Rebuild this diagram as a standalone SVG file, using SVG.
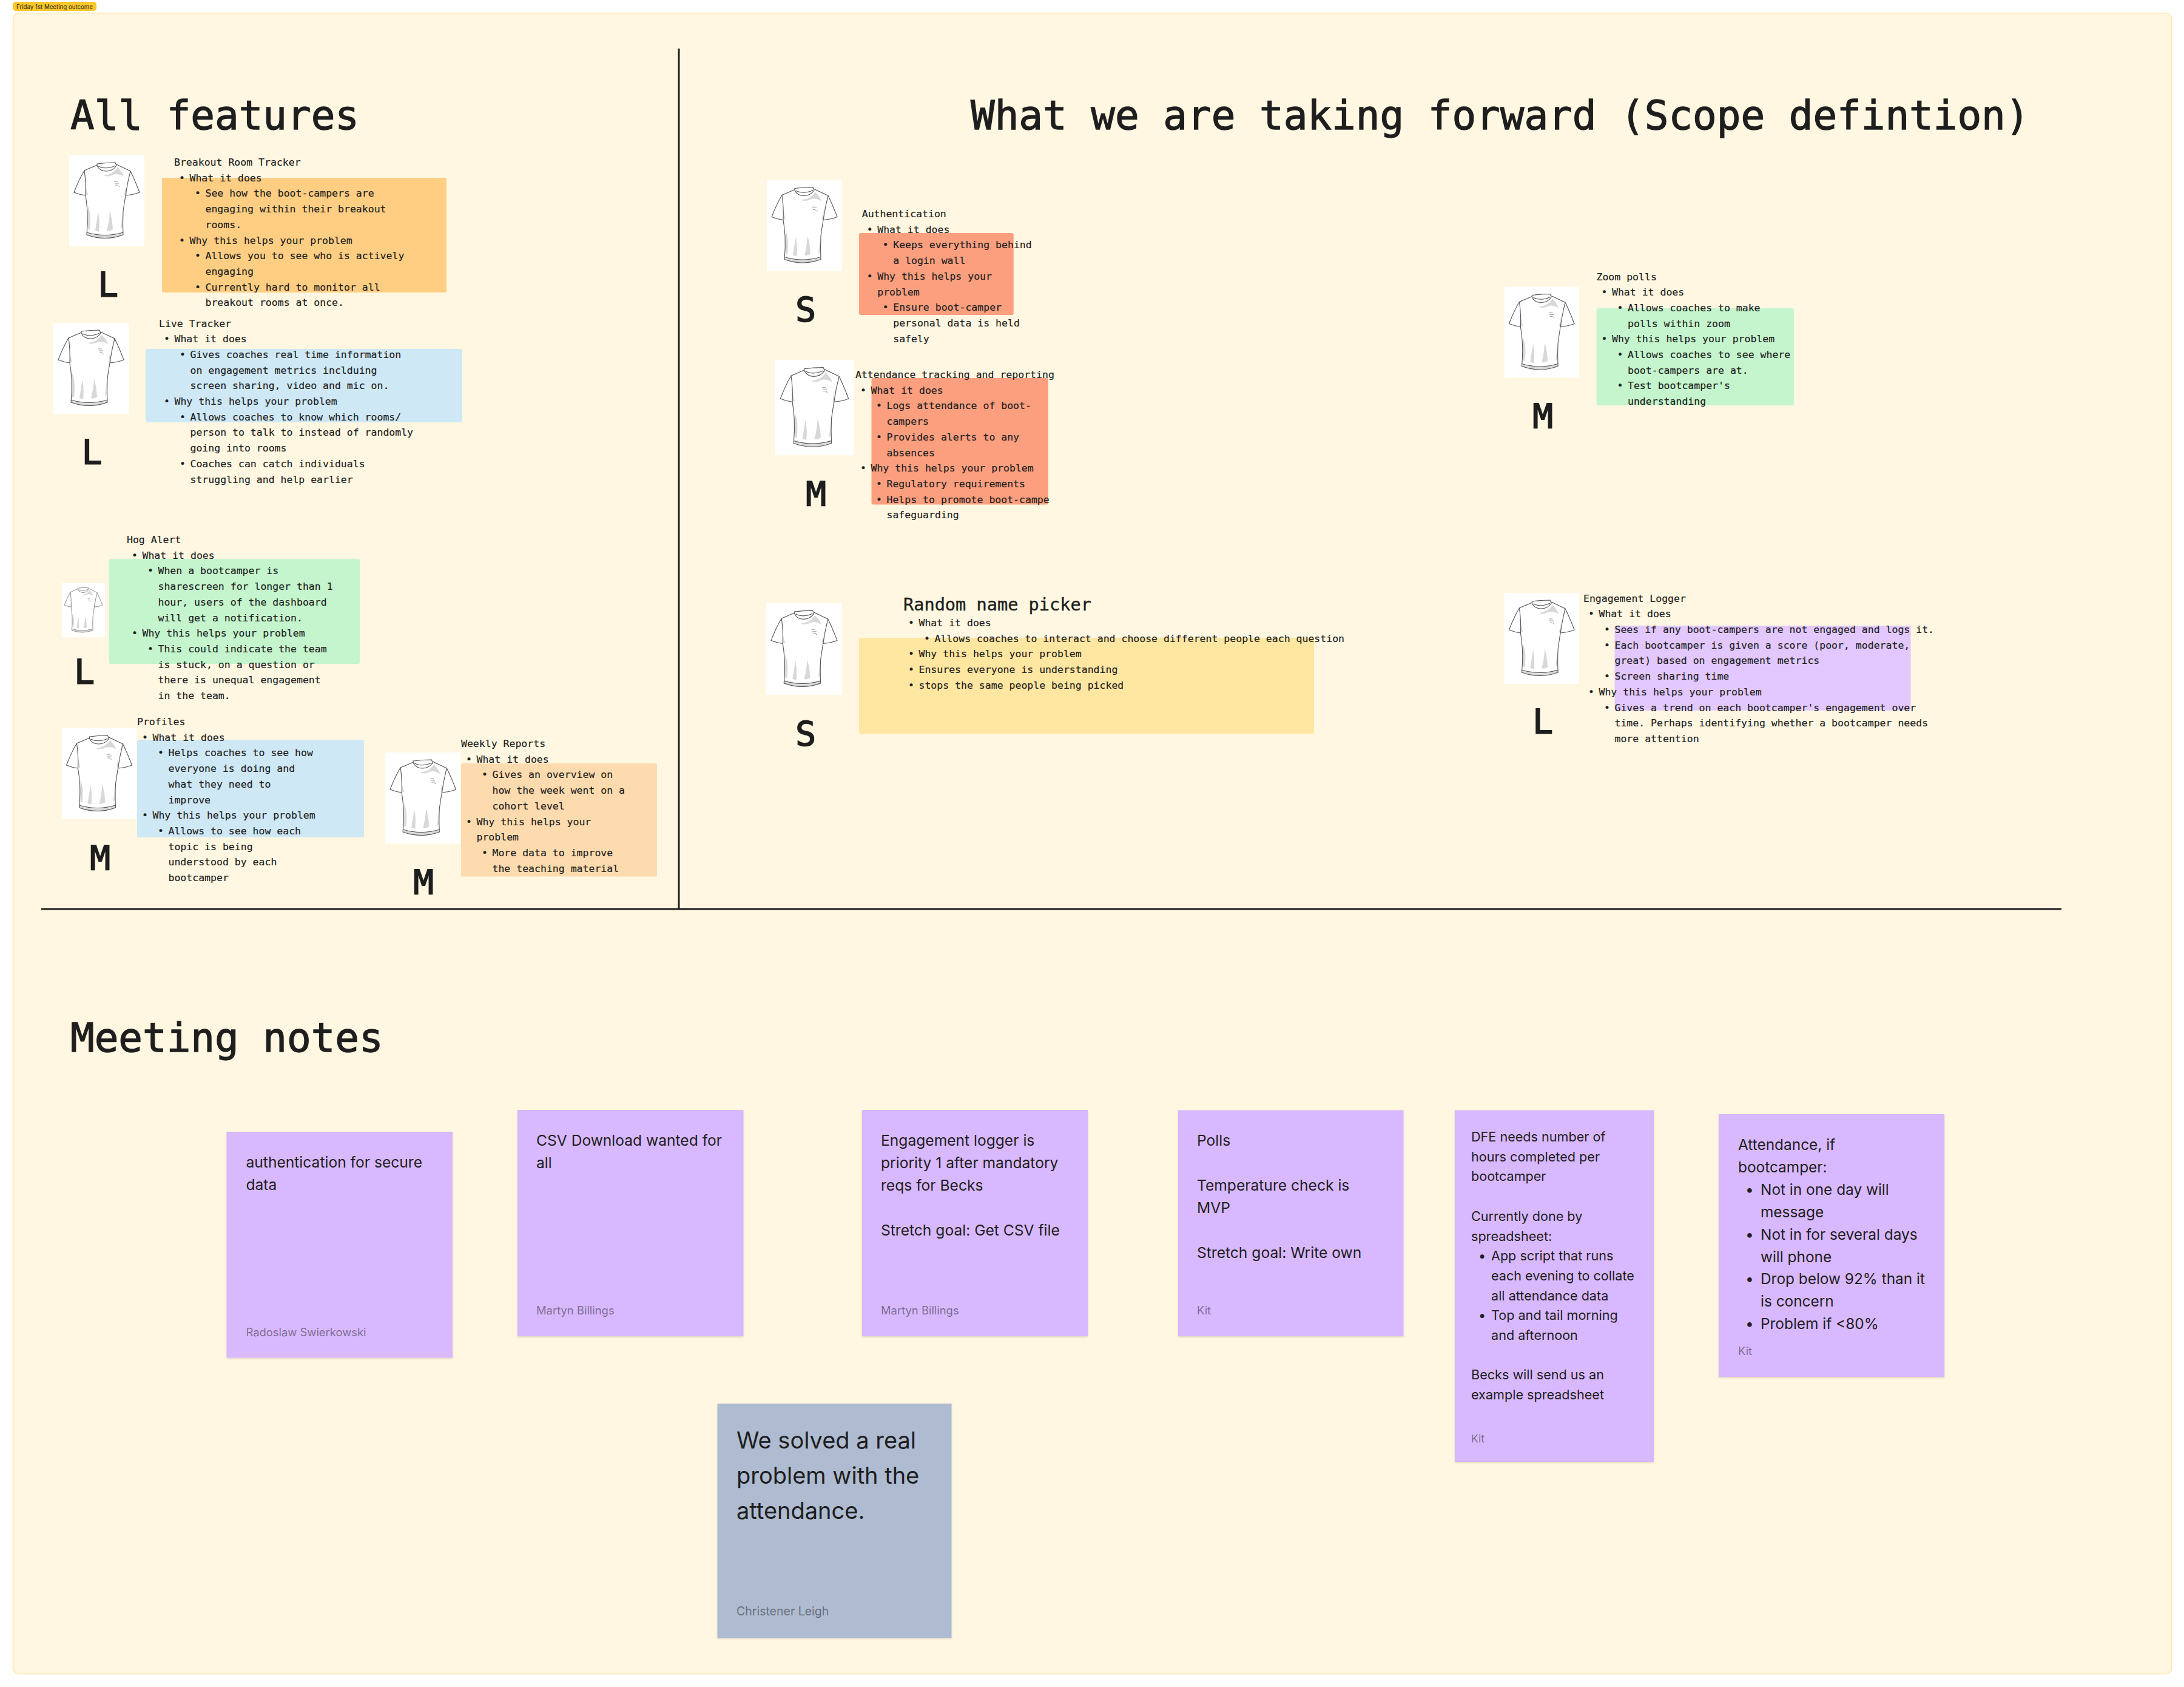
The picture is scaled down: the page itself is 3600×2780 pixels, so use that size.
<svg xmlns="http://www.w3.org/2000/svg" width="3600" height="2780" viewBox="0 0 3600 2780">
<style>
text{fill:#1e1e1e}
.m{font-family:"DejaVu Sans Mono","Liberation Mono",monospace;font-size:16.5px;stroke:#1e1e1e;stroke-width:.2px}
.h{font-family:"DejaVu Sans Mono","Liberation Mono",monospace;font-size:65.9px;stroke:#1e1e1e;stroke-width:1.3px}
.sz{font-family:"DejaVu Sans Mono","Liberation Mono",monospace;font-size:56px;text-anchor:middle;stroke:#1e1e1e;stroke-width:1.8px}
.s{font-family:Inter,"Noto Sans",sans-serif;font-size:24.6px}
.a{font-family:Inter,"Noto Sans",sans-serif;font-size:18.4px;fill:#1e1e1e;fill-opacity:.5}
.or{fill:#ffce83}.bl{fill:#cfe8f6}.gr{fill:#c5f5cd}.pe{fill:#fddbae}.sa{fill:#fb9f7f}.ye{fill:#ffe6a1}.pu{fill:#e2c8ff}
.st{fill:#d8b8ff;filter:url(#sh)}
</style>
<defs>
<filter id="sh" x="-5%" y="-5%" width="110%" height="110%"><feDropShadow dx="0" dy="1.5" stdDeviation="1.5" flood-color="#000" flood-opacity=".14"/></filter>
<symbol id="tee" viewBox="0 0 124 150" preserveAspectRatio="none">
<rect width="124" height="150" fill="#fff"/>
<g fill="#d8d8d8">
<path d="M57 33Q72 32 80 20Q88 28 90 35Q78 28 70 33Q62 36 57 33Z"/>
<path d="M27 50L31 65L27 65Z"/><path d="M93 50L91 65L95 65Z"/>
<path d="M43 124Q46 104 48 94Q51 112 49 126Z"/>
<path d="M67 92Q71 105 72 122Q66 126 62 124Q66 110 67 92Z"/>
<path d="M31 84Q37 97 34 122L31 122Z"/>
<path d="M88 94L88 118L85 122Q87 105 88 94Z"/>
<path d="M29 128Q59 137 89 128L89 131Q59 141 29 131Z"/>
</g>
<g fill="none" stroke="#555" stroke-width="1.1">
<path d="M46 14Q60 12 76 12L78 17Q72 26 61 26Q50 26 46 17Z"/>
<path d="M48 18Q61 24 76 17"/>
<path d="M46 16L25 25Q16 40 8 61Q18 65 27 66Q29 78 30 92Q31 112 29 131Q59 142 89 131Q88 112 89 92Q91 78 93 66Q106 65 116 61Q108 40 101 26L78 15"/>
<path d="M25 25Q28 45 27 66"/><path d="M101 26Q96 45 93 66"/>
<path d="M29 127Q59 136 89 127"/>
</g>
<path d="M74 43h6M75 46h7M76 49h4l3 3" fill="none" stroke="#999" stroke-width="1"/>
</symbol>
</defs>
<rect width="3600" height="2780" fill="#fff"/>
<g id="frame">
<rect x="21.5" y="21.5" width="3558" height="2737" rx="10" fill="#fff7e1" stroke="#fde6ae" stroke-width="1.5"/>
<rect x="21" y="3" width="138" height="15" rx="5" fill="#fcc72a"/>
<text x="27" y="15" style="font-family:Inter,sans-serif;font-size:9.7px">Friday 1st Meeting outcome</text>
</g>
<g id="headings">
<text class="h" x="116" y="213">All features</text>
<text class="h" x="1600" y="213">What we are taking forward (Scope defintion)</text>
<text class="h" x="116" y="1733">Meeting notes</text>
</g>
<g id="connectors" stroke="#1e1e1e" stroke-width="3">
<line x1="1119" y1="80" x2="1119" y2="1498"/>
<line x1="68" y1="1498" x2="3398" y2="1498"/>
</g>

<g id="breakout-room-tracker">
<use href="#tee" x="114" y="256" width="124" height="150"/>
<text class="sz" x="178" y="488">L</text>
<rect class="or" x="267" y="293" width="469" height="189" rx="3"/>
<text class="m" transform="translate(287 273)"><tspan x="0">Breakout Room Tracker</tspan><tspan x="8" dy="25.7">•</tspan><tspan x="25.500">What it does</tspan><tspan x="34" dy="25.7">•</tspan><tspan x="51.500">See how the boot-campers are</tspan><tspan x="51.500" dy="25.7">engaging within their breakout</tspan><tspan x="51.500" dy="25.7">rooms.</tspan><tspan x="8" dy="25.7">•</tspan><tspan x="25.500">Why this helps your problem</tspan><tspan x="34" dy="25.7">•</tspan><tspan x="51.500">Allows you to see who is actively</tspan><tspan x="51.500" dy="25.7">engaging</tspan><tspan x="34" dy="25.7">•</tspan><tspan x="51.500">Currently hard to monitor all</tspan><tspan x="51.500" dy="25.7">breakout rooms at once.</tspan></text>
</g>
<g id="live-tracker">
<use href="#tee" x="88" y="532" width="124" height="150"/>
<text class="sz" x="151.500" y="764">L</text>
<rect class="bl" x="240" y="575" width="522" height="121" rx="3"/>
<text class="m" transform="translate(262 538.500)"><tspan x="0">Live Tracker</tspan><tspan x="8" dy="25.7">•</tspan><tspan x="25.500">What it does</tspan><tspan x="34" dy="25.7">•</tspan><tspan x="51.500">Gives coaches real time information</tspan><tspan x="51.500" dy="25.7">on engagement metrics inclduing</tspan><tspan x="51.500" dy="25.7">screen sharing, video and mic on.</tspan><tspan x="8" dy="25.7">•</tspan><tspan x="25.500">Why this helps your problem</tspan><tspan x="34" dy="25.7">•</tspan><tspan x="51.500">Allows coaches to know which rooms/</tspan><tspan x="51.500" dy="25.7">person to talk to instead of randomly</tspan><tspan x="51.500" dy="25.7">going into rooms</tspan><tspan x="34" dy="25.7">•</tspan><tspan x="51.500">Coaches can catch individuals</tspan><tspan x="51.500" dy="25.7">struggling and help earlier</tspan></text>
</g>
<g id="hog-alert">
<use href="#tee" x="101.500" y="961" width="72" height="89"/>
<text class="sz" x="139" y="1126">L</text>
<rect class="gr" x="180" y="921" width="413" height="173" rx="3"/>
<text class="m" transform="translate(209 895)"><tspan x="0">Hog Alert</tspan><tspan x="8" dy="25.7">•</tspan><tspan x="25.500">What it does</tspan><tspan x="34" dy="25.7">•</tspan><tspan x="51.500">When a bootcamper is</tspan><tspan x="51.500" dy="25.7">sharescreen for longer than 1</tspan><tspan x="51.500" dy="25.7">hour, users of the dashboard</tspan><tspan x="51.500" dy="25.7">will get a notification.</tspan><tspan x="8" dy="25.7">•</tspan><tspan x="25.500">Why this helps your problem</tspan><tspan x="34" dy="25.7">•</tspan><tspan x="51.500">This could indicate the team</tspan><tspan x="51.500" dy="25.7">is stuck, on a question or</tspan><tspan x="51.500" dy="25.7">there is unequal engagement</tspan><tspan x="51.500" dy="25.7">in the team.</tspan></text>
</g>
<g id="profiles">
<use href="#tee" x="101.500" y="1200" width="124" height="150"/>
<text class="sz" x="165" y="1433">M</text>
<rect class="bl" x="226" y="1219" width="374" height="161" rx="3"/>
<text class="m" transform="translate(226 1195)"><tspan x="0">Profiles</tspan><tspan x="8" dy="25.7">•</tspan><tspan x="25.500">What it does</tspan><tspan x="34" dy="25.7">•</tspan><tspan x="51.500">Helps coaches to see how</tspan><tspan x="51.500" dy="25.7">everyone is doing and</tspan><tspan x="51.500" dy="25.7">what they need to</tspan><tspan x="51.500" dy="25.7">improve</tspan><tspan x="8" dy="25.7">•</tspan><tspan x="25.500">Why this helps your problem</tspan><tspan x="34" dy="25.7">•</tspan><tspan x="51.500">Allows to see how each</tspan><tspan x="51.500" dy="25.7">topic is being</tspan><tspan x="51.500" dy="25.7">understood by each</tspan><tspan x="51.500" dy="25.7">bootcamper</tspan></text>
</g>
<g id="weekly-reports">
<use href="#tee" x="635" y="1240" width="124.500" height="150"/>
<text class="sz" x="698" y="1473">M</text>
<rect class="pe" x="760" y="1258" width="323" height="186.500" rx="3"/>
<text class="m" transform="translate(760 1231)"><tspan x="0">Weekly Reports</tspan><tspan x="8" dy="25.7">•</tspan><tspan x="25.500">What it does</tspan><tspan x="34" dy="25.7">•</tspan><tspan x="51.500">Gives an overview on</tspan><tspan x="51.500" dy="25.7">how the week went on a</tspan><tspan x="51.500" dy="25.7">cohort level</tspan><tspan x="8" dy="25.7">•</tspan><tspan x="25.500">Why this helps your</tspan><tspan x="25.500" dy="25.7">problem</tspan><tspan x="34" dy="25.7">•</tspan><tspan x="51.500">More data to improve</tspan><tspan x="51.500" dy="25.7">the teaching material</tspan></text>
</g>
<g id="authentication">
<use href="#tee" x="1264" y="296.500" width="124" height="150"/>
<text class="sz" x="1328" y="529">S</text>
<rect class="sa" x="1416" y="384" width="254.700" height="135" rx="3"/>
<text class="m" transform="translate(1420.700 358)"><tspan x="0">Authentication</tspan><tspan x="8" dy="25.7">•</tspan><tspan x="25.500">What it does</tspan><tspan x="34" dy="25.7">•</tspan><tspan x="51.500">Keeps everything behind</tspan><tspan x="51.500" dy="25.7">a login wall</tspan><tspan x="8" dy="25.7">•</tspan><tspan x="25.500">Why this helps your</tspan><tspan x="25.500" dy="25.7">problem</tspan><tspan x="34" dy="25.7">•</tspan><tspan x="51.500">Ensure boot-camper</tspan><tspan x="51.500" dy="25.7">personal data is held</tspan><tspan x="51.500" dy="25.7">safely</tspan></text>
</g>
<g id="attendance-tracking">
<use href="#tee" x="1278" y="593" width="129" height="157.500"/>
<text class="sz" x="1345" y="833">M</text>
<rect class="sa" x="1436.500" y="623" width="291.500" height="208.500" rx="3"/>
<text class="m" transform="translate(1410 623)"><tspan x="0">Attendance tracking and reporting</tspan><tspan x="8" dy="25.7">•</tspan><tspan x="25.500">What it does</tspan><tspan x="34" dy="25.7">•</tspan><tspan x="51.500">Logs attendance of boot-</tspan><tspan x="51.500" dy="25.7">campers</tspan><tspan x="34" dy="25.7">•</tspan><tspan x="51.500">Provides alerts to any</tspan><tspan x="51.500" dy="25.7">absences</tspan><tspan x="8" dy="25.7">•</tspan><tspan x="25.500">Why this helps your problem</tspan><tspan x="34" dy="25.7">•</tspan><tspan x="51.500">Regulatory requirements</tspan><tspan x="34" dy="25.7">•</tspan><tspan x="51.500">Helps to promote boot-campe</tspan><tspan x="51.500" dy="25.7">safeguarding</tspan></text>
</g>
<g id="random-name-picker">
<use href="#tee" x="1263" y="994" width="125" height="151"/>
<text class="sz" x="1328" y="1228">S</text>
<rect class="ye" x="1416" y="1051" width="750" height="158" rx="3"/>
<text class="m" x="1489" y="1006" style="font-size:28.600px;stroke-width:.4px">Random name picker</text>
<text class="m" transform="translate(1489 1006)"><tspan x="8" dy="26">•</tspan><tspan x="25.500">What it does</tspan><tspan x="34" dy="25.7">•</tspan><tspan x="51.500">Allows coaches to interact and choose different people each question</tspan><tspan x="8" dy="25.7">•</tspan><tspan x="25.500">Why this helps your problem</tspan><tspan x="8" dy="25.7">•</tspan><tspan x="25.500">Ensures everyone is understanding</tspan><tspan x="8" dy="25.7">•</tspan><tspan x="25.500">stops the same people being picked</tspan></text>
</g>
<g id="zoom-polls">
<use href="#tee" x="2479.500" y="472.500" width="123.500" height="150"/>
<text class="sz" x="2543" y="704.500">M</text>
<rect class="gr" x="2631.500" y="508" width="325.500" height="160" rx="3"/>
<text class="m" transform="translate(2631.500 461.500)"><tspan x="0">Zoom polls</tspan><tspan x="8" dy="25.7">•</tspan><tspan x="25.500">What it does</tspan><tspan x="34" dy="25.7">•</tspan><tspan x="51.500">Allows coaches to make</tspan><tspan x="51.500" dy="25.7">polls within zoom</tspan><tspan x="8" dy="25.7">•</tspan><tspan x="25.500">Why this helps your problem</tspan><tspan x="34" dy="25.7">•</tspan><tspan x="51.500">Allows coaches to see where</tspan><tspan x="51.500" dy="25.7">boot-campers are at.</tspan><tspan x="34" dy="25.7">•</tspan><tspan x="51.500">Test bootcamper's</tspan><tspan x="51.500" dy="25.7">understanding</tspan></text>
</g>
<g id="engagement-logger">
<use href="#tee" x="2479.500" y="977" width="123.500" height="150"/>
<text class="sz" x="2543" y="1208">L</text>
<rect class="pu" x="2661.500" y="1031" width="488" height="139.700" rx="3"/>
<text class="m" transform="translate(2610 991.700)"><tspan x="0">Engagement Logger</tspan><tspan x="8" dy="25.7">•</tspan><tspan x="25.500">What it does</tspan><tspan x="34" dy="25.7">•</tspan><tspan x="51.500">Sees if any boot-campers are not engaged and logs it.</tspan><tspan x="34" dy="25.7">•</tspan><tspan x="51.500">Each bootcamper is given a score (poor, moderate,</tspan><tspan x="51.500" dy="25.7">great) based on engagement metrics</tspan><tspan x="34" dy="25.7">•</tspan><tspan x="51.500">Screen sharing time</tspan><tspan x="8" dy="25.7">•</tspan><tspan x="25.500">Why this helps your problem</tspan><tspan x="34" dy="25.7">•</tspan><tspan x="51.500">Gives a trend on each bootcamper's engagement over</tspan><tspan x="51.500" dy="25.7">time. Perhaps identifying whether a bootcamper needs</tspan><tspan x="51.500" dy="25.7">more attention</tspan></text>
</g>

<g id="note-authentication">
<rect class="st" x="373.500" y="1865" width="372.500" height="372.500"/>
<text class="s" x="405.500" y="1924">authentication for secure<tspan x="405.500" dy="37">data</tspan></text>
<text class="a" x="405.500" y="2202">Radoslaw Swierkowski</text>
</g>
<g id="note-csv">
<rect class="st" x="853" y="1829" width="372.500" height="373"/>
<text class="s" x="884" y="1888">CSV Download wanted for<tspan x="884" dy="37">all</tspan></text>
<text class="a" x="884" y="2166">Martyn Billings</text>
</g>
<g id="note-engagement">
<rect class="st" x="1421" y="1829" width="372" height="373"/>
<text class="s" x="1452" y="1888">Engagement logger is<tspan x="1452" dy="37">priority 1 after mandatory</tspan><tspan x="1452" dy="37">reqs for Becks</tspan><tspan x="1452" dy="74">Stretch goal: Get CSV file</tspan></text>
<text class="a" x="1452" y="2166">Martyn Billings</text>
</g>
<g id="note-polls">
<rect class="st" x="1942" y="1829.500" width="371.500" height="372.500"/>
<text class="s" x="1973" y="1888">Polls<tspan x="1973" dy="74">Temperature check is</tspan><tspan x="1973" dy="37">MVP</tspan><tspan x="1973" dy="74">Stretch goal: Write own</tspan></text>
<text class="a" x="1973" y="2166">Kit</text>
</g>
<g id="note-dfe">
<rect class="st" x="2398" y="1829.500" width="328" height="579.500"/>
<text class="s" style="font-size:21.600px"><tspan x="2425" y="1881">DFE needs number of</tspan><tspan x="2425" dy="32.7">hours completed per</tspan><tspan x="2425" dy="32.7">bootcamper</tspan><tspan x="2425" dy="65.4">Currently done by</tspan><tspan x="2425" dy="32.7">spreadsheet:</tspan><tspan x="2437" dy="32.7">•</tspan><tspan x="2458">App script that runs</tspan><tspan x="2458" dy="32.7">each evening to collate</tspan><tspan x="2458" dy="32.7">all attendance data</tspan><tspan x="2437" dy="32.7">•</tspan><tspan x="2458">Top and tail morning</tspan><tspan x="2458" dy="32.7">and afternoon</tspan><tspan x="2425" dy="65.4">Becks will send us an</tspan><tspan x="2425" dy="32.7">example spreadsheet</tspan></text>
<text class="a" style="font-size:17.500px" x="2425" y="2377">Kit</text>
</g>
<g id="note-attendance">
<rect class="st" x="2833" y="1836" width="372" height="433"/>
<text class="s" style="font-size:24.400px"><tspan x="2865" y="1895">Attendance, if</tspan><tspan x="2865" dy="36.9">bootcamper:</tspan><tspan x="2877" dy="36.9">•</tspan><tspan x="2902">Not in one day will</tspan><tspan x="2902" dy="36.9">message</tspan><tspan x="2877" dy="36.9">•</tspan><tspan x="2902">Not in for several days</tspan><tspan x="2902" dy="36.9">will phone</tspan><tspan x="2877" dy="36.9">•</tspan><tspan x="2902">Drop below 92% than it</tspan><tspan x="2902" dy="36.9">is concern</tspan><tspan x="2877" dy="36.9">•</tspan><tspan x="2902">Problem if &lt;80%</tspan></text>
<text class="a" x="2865" y="2233">Kit</text>
</g>
<g id="note-solved">
<rect class="st" style="fill:#aebbd0" x="1182.500" y="2313" width="386" height="386"/>
<text class="s" style="font-size:38px"><tspan x="1214" y="2387">We solved a real</tspan><tspan x="1214" dy="58">problem with the</tspan><tspan x="1214" dy="58">attendance.</tspan></text>
<text class="a" style="font-size:19.500px" x="1214" y="2662">Christener Leigh</text>
</g>
</svg>
